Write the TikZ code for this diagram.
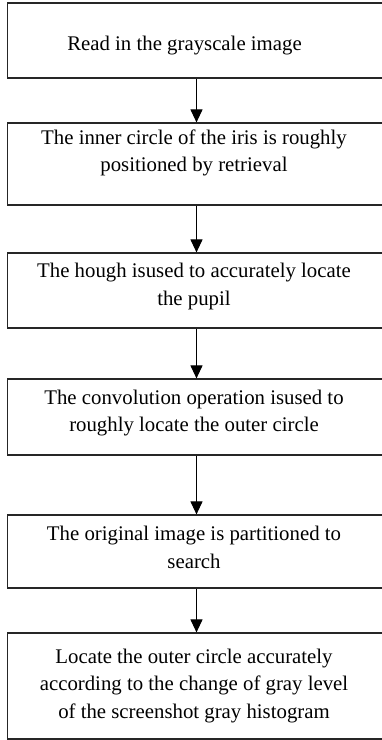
\documentclass[tikz,border=0pt]{standalone}
\usepackage{fontspec}
\setmainfont{Liberation Serif}
\usetikzlibrary{arrows.meta}
\begin{document}
\begin{tikzpicture}[x=1pt,y=-1pt,
  stepbox/.style={draw=black!85,line width=1.2pt,inner sep=0pt},
  label/.style={inner sep=0pt,align=center,anchor=base,
    font=\fontsize{20.8}{27.5}\selectfont},
  flow/.style={draw=black,line width=1.1pt,-{Triangle[length=13pt,width=12pt]}}]
\useasboundingbox (0,0) rectangle (382,740);
\begin{scope}
\clip (0,0) rectangle (382,740);
\node[stepbox,minimum width=378pt,minimum height=75pt] (b1) at (196.5,40.5) {};
\node[stepbox,minimum width=378pt,minimum height=82pt] (b2) at (196.5,164) {};
\node[stepbox,minimum width=378pt,minimum height=75pt] (b3) at (196.5,290.5) {};
\node[stepbox,minimum width=378pt,minimum height=76pt] (b4) at (196.5,417) {};
\node[stepbox,minimum width=378pt,minimum height=73pt] (b5) at (196.5,551.5) {};
\node[stepbox,minimum width=378pt,minimum height=106pt] (b6) at (196.5,686) {};
\end{scope}
\node[label] (t1) at (184.5,50) {Read in the grayscale image};
\node[label] (t2) at (194,171.5) {The inner circle of the iris is roughly\\positioned by retrieval};
\node[label] (t3) at (194,305) {The hough isused to accurately locate\\the pupil};
\node[label] (t4) at (194,431.5) {The convolution operation isused to\\roughly locate the outer circle};
\node[label] (t5) at (194,568) {The original image is partitioned to\\search};
\node[label] (t6) at (194,718) {Locate the outer circle accurately\\according to the change of gray level\\of the screenshot gray histogram};
\draw[flow] (b1.south) -- (b2.north);
\draw[flow] (b2.south) -- (b3.north);
\draw[flow] (b3.south) -- (b4.north);
\draw[flow] (b4.south) -- (b5.north);
\draw[flow] (b5.south) -- (b6.north);
\end{tikzpicture}
\end{document}
